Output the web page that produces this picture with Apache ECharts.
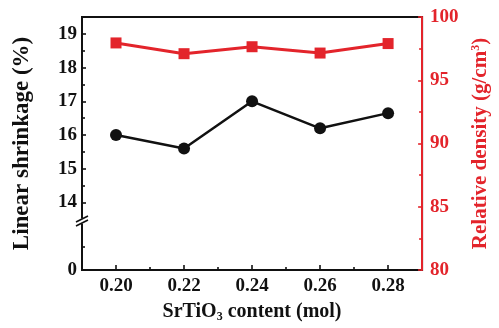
<!DOCTYPE html>
<html>
<head>
<meta charset="utf-8">
<script src="https://cdn.jsdelivr.net/npm/echarts@6/dist/echarts.min.js"></script>
<style>
  html, body { margin: 0; padding: 0; background: #fff; }
  #chart { width: 499px; height: 328px; }
</style>
</head>
<body>
<div id="chart"></div>
<script>
// SrTiO3 content (mol) and the measured properties
const contents = [0.20, 0.22, 0.24, 0.26, 0.28];
const linearShrinkage = [16.0, 15.6, 17.0, 16.2, 16.65];   // %
const relativeDensity = [97.95, 97.1, 97.65, 97.15, 97.9]; // g/cm3

// Axis ticks
const contentLabels = [0.20, 0.22, 0.24, 0.26, 0.28];
const contentMinorTicks = [0.21, 0.23, 0.25, 0.27];
const shrinkLabels = [14, 15, 16, 17, 18, 19];
const shrinkMinorTicks = [14.5, 15.5, 16.5, 17.5, 18.5, 19.5];
const densityLabels = [80, 85, 90, 95, 100];

// The shrinkage axis is broken: its bottom tick reads 0
const shrinkAxisBottom = 12;
const shrinkBreakAt = 13.45;
const shrinkBottomMinor = 12.7;

const RED = '#e3242b';
const BLACK = '#111';
const FONT = '"Liberation Serif", "Times New Roman", serif';

const chart = echarts.init(document.getElementById('chart'), null, { renderer: 'canvas' });

const baseText = { fontFamily: FONT, fontWeight: 'bold' };

chart.setOption({
  animation: false,
  backgroundColor: '#fff',
  grid: {
    left: 82, top: 17, right: 68, bottom: 55,
    show: true, borderColor: BLACK, borderWidth: 2, backgroundColor: 'transparent'
  },
  xAxis: [
    {
      type: 'value', min: 0.19, max: 0.29, interval: 0.01,
      axisLine: { lineStyle: { color: BLACK, width: 2 } },
      axisTick: { inside: true, length: 5, customValues: contentLabels, lineStyle: { color: BLACK, width: 1.6 } },
      axisLabel: {
        customValues: contentLabels, margin: 7,
        formatter: v => v.toFixed(2),
        color: BLACK, fontSize: 19, ...baseText
      },
      splitLine: { show: false },
      name: 'SrTiO{sub|3} content (mol)',
      nameLocation: 'middle', nameGap: 31,
      nameTextStyle: {
        color: BLACK, fontSize: 20, ...baseText,
        rich: { sub: { fontSize: 12, fontFamily: FONT, fontWeight: 'bold', color: BLACK, verticalAlign: 'bottom', padding: [10, 0, 0, 0] } }
      }
    },
    {
      type: 'value', min: 0.19, max: 0.29, position: 'bottom',
      axisLine: { show: false },
      axisTick: { inside: true, length: 3, customValues: contentMinorTicks, lineStyle: { color: BLACK, width: 1.6 } },
      axisLabel: { show: false },
      splitLine: { show: false }
    }
  ],
  yAxis: [
    {
      type: 'value', min: shrinkAxisBottom, max: 19.5, position: 'left',
      axisLine: { show: true, lineStyle: { color: BLACK, width: 2 } },
      axisTick: { inside: true, length: 4, customValues: [shrinkAxisBottom].concat(shrinkLabels), lineStyle: { color: BLACK, width: 1.6 } },
      axisLabel: {
        customValues: [shrinkAxisBottom].concat(shrinkLabels), margin: 5,
        formatter: v => (v === shrinkAxisBottom ? '0' : String(v)),
        color: BLACK, fontSize: 19, ...baseText
      },
      splitLine: { show: false },
      name: 'Linear shrinkage (%)',
      nameLocation: 'middle', nameRotate: 90, nameGap: 48,
      nameTextStyle: { color: BLACK, fontSize: 23, ...baseText }
    },
    {
      type: 'value', min: 80, max: 100, interval: 5, position: 'right', z: 5,
      axisLine: { show: true, lineStyle: { color: RED, width: 2 } },
      axisTick: { inside: true, length: 4, lineStyle: { color: RED, width: 1.6 } },
      minorTick: { show: true, splitNumber: 2, length: 3, lineStyle: { color: RED, width: 1.6 } },
      axisLabel: { margin: 8, color: RED, fontSize: 19, ...baseText },
      splitLine: { show: false },
      name: 'Relative density (g/cm{sup|3})',
      nameLocation: 'middle', nameRotate: 90, nameGap: 43,
      nameTextStyle: {
        color: RED, fontSize: 21, ...baseText,
        rich: { sup: { fontSize: 12, fontFamily: FONT, fontWeight: 'bold', color: RED, verticalAlign: 'top', padding: [0, 0, 10, 0] } }
      }
    },
    {
      type: 'value', min: shrinkAxisBottom, max: 19.5, position: 'left',
      axisLine: { show: false },
      axisTick: { inside: true, length: 3, customValues: [shrinkBottomMinor].concat(shrinkMinorTicks), lineStyle: { color: BLACK, width: 1.6 } },
      axisLabel: { show: false },
      splitLine: { show: false }
    }
  ],
  series: [
    {
      name: 'Linear shrinkage',
      type: 'line', xAxisIndex: 0, yAxisIndex: 0,
      data: contents.map((x, i) => [x, linearShrinkage[i]]),
      symbol: 'circle', symbolSize: 12,
      lineStyle: { color: BLACK, width: 2.5 },
      itemStyle: { color: BLACK },
      z: 3
    },
    {
      name: 'Relative density',
      type: 'line', xAxisIndex: 0, yAxisIndex: 1,
      data: contents.map((x, i) => [x, relativeDensity[i]]),
      symbol: 'rect', symbolSize: 11,
      lineStyle: { color: RED, width: 3 },
      itemStyle: { color: RED },
      z: 3
    }
  ]
});

// Break marks across the shrinkage axis
const axisX = chart.convertToPixel({ xAxisIndex: 0 }, 0.19);
const breakY = chart.convertToPixel({ yAxisIndex: 0 }, shrinkBreakAt);
chart.setOption({
  graphic: [
    { type: 'rect', z: 100, shape: { x: axisX - 2, y: breakY - 2.5, width: 4, height: 5 }, style: { fill: '#fff' } },
    { type: 'line', z: 101, shape: { x1: axisX - 6, y1: breakY + 1, x2: axisX + 6, y2: breakY - 5 }, style: { stroke: BLACK, lineWidth: 1.6 } },
    { type: 'line', z: 101, shape: { x1: axisX - 6, y1: breakY + 5, x2: axisX + 6, y2: breakY - 1 }, style: { stroke: BLACK, lineWidth: 1.6 } }
  ]
});
</script>
</body>
</html>
